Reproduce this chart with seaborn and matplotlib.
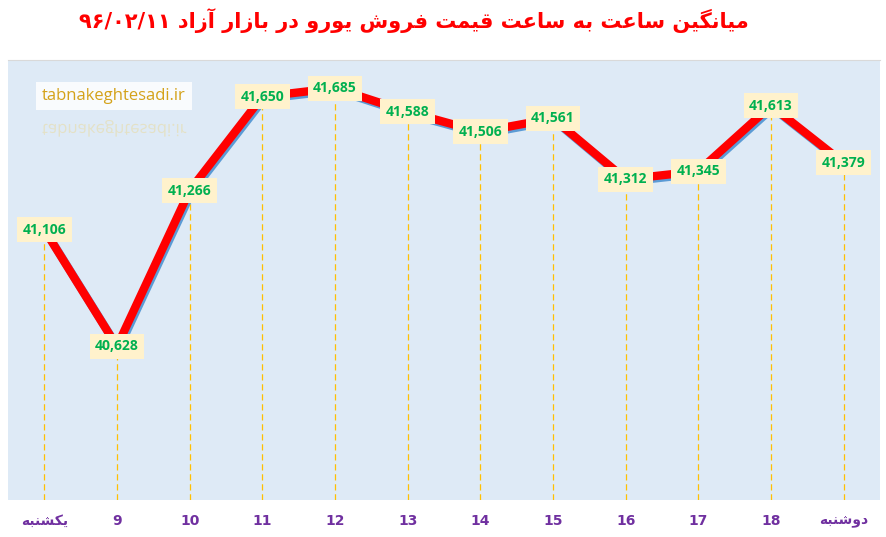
import matplotlib.pyplot as plt
import matplotlib.patheffects as pe
from matplotlib.textpath import TextPath
from matplotlib.patches import PathPatch
from matplotlib.transforms import Affine2D
from matplotlib.font_manager import FontProperties
import seaborn as sns
import pandas as pd

# data
days = ['یکشنبه', '9', '10', '11', '12', '13', '14', '15', '16', '17', '18', 'دوشنبه']
prices = [41106, 40628, 41266, 41650, 41685, 41588, 41506, 41561, 41312, 41345, 41613, 41379]
title_fa = 'میانگین ساعت به ساعت قیمت فروش یورو در بازار آزاد'
title_date = '۹۶/۰۲/۱۱'
watermark = 'tabnakeghtesadi.ir'

# minimal arabic/persian shaping (matplotlib does no shaping / rtl)
FORMS = {
    'ا': ('\uFE8D', '\uFE8E', None, None),
    'آ': ('\uFE81', '\uFE82', None, None),
    'ب': ('\uFE8F', '\uFE90', '\uFE91', '\uFE92'),
    'ت': ('\uFE95', '\uFE96', '\uFE97', '\uFE98'),
    'د': ('\uFEA9', '\uFEAA', None, None),
    'ر': ('\uFEAD', '\uFEAE', None, None),
    'ز': ('\uFEAF', '\uFEB0', None, None),
    'س': ('\uFEB1', '\uFEB2', '\uFEB3', '\uFEB4'),
    'ش': ('\uFEB5', '\uFEB6', '\uFEB7', '\uFEB8'),
    'ع': ('\uFEC9', '\uFECA', '\uFECB', '\uFECC'),
    'ف': ('\uFED1', '\uFED2', '\uFED3', '\uFED4'),
    'ق': ('\uFED5', '\uFED6', '\uFED7', '\uFED8'),
    'م': ('\uFEE1', '\uFEE2', '\uFEE3', '\uFEE4'),
    'ن': ('\uFEE5', '\uFEE6', '\uFEE7', '\uFEE8'),
    'ه': ('\uFEE9', '\uFEEA', '\uFEEB', '\uFEEC'),
    'و': ('\uFEED', '\uFEEE', None, None),
    'ی': ('\uFBFC', '\uFBFD', '\uFBFE', '\uFBFF'),
    'گ': ('\uFB92', '\uFB93', '\uFB94', '\uFB95'),
    'ک': ('\uFB8E', '\uFB8F', '\uFB90', '\uFB91'),
}


def shape(text):
    if not any(ch in FORMS for ch in text):
        return text
    out = []
    for i, ch in enumerate(text):
        if ch not in FORMS:
            out.append(ch)
            continue
        prev = text[i - 1] if i > 0 else ''
        nxt = text[i + 1] if i + 1 < len(text) else ''
        iso, fin, ini, med = FORMS[ch]
        jp = prev in FORMS and FORMS[prev][2] is not None
        jn = nxt in FORMS and ini is not None
        if jp and jn:
            out.append(med)
        elif jp:
            out.append(fin)
        elif jn:
            out.append(ini)
        else:
            out.append(iso)
    return ''.join(reversed(out))


sns.set_style('white')
plt.rcParams['font.family'] = ['DejaVu Sans']

df = pd.DataFrame({'pos': range(len(prices)), 'price': prices})

fig = plt.figure(figsize=(8.87, 5.37), dpi=100)
ax = fig.add_axes([8 / 887, 37 / 537, 872 / 887, 440 / 537])
ax.set_facecolor('#DEEAF6')

sns.lineplot(data=df, x='pos', y='price', ax=ax, color='#FF0000', linewidth=6,
             solid_capstyle='round', solid_joinstyle='round', zorder=3,
             path_effects=[pe.SimpleLineShadow(offset=(1.2, -1.6), shadow_color='#5B9BD5', alpha=1),
                           pe.Normal()])

ax.vlines(df['pos'], 40000, df['price'], colors='#FFC000', linestyles=(0, (5, 3)),
          linewidth=0.9, zorder=2)

for x, y in zip(df['pos'], df['price']):
    ax.text(x, y, f'{y:,}', ha='center', va='center', fontsize=10, fontweight='bold',
            color='#00B050', family='Open Sans', zorder=5,
            bbox=dict(boxstyle='square,pad=0.4', fc='#FFF2CC', ec='none'))

ax.set_xlim(-0.5, len(prices) - 0.5)
ax.set_ylim(40000, 41800)
ax.set_xticks(range(len(days)))
ax.set_xticklabels([shape(d) for d in days], color='#7030A0', fontweight='bold', fontsize=10)
ax.tick_params(axis='x', length=0, pad=10)
ax.set_yticks([])
ax.set_xlabel('')
ax.set_ylabel('')
for s in ax.spines.values():
    s.set_visible(False)
ax.spines['top'].set_visible(True)
ax.spines['top'].set_color('#D9D9D9')

# watermark with reflection
fig.text(42 / 887, 1 - 96 / 537, watermark, ha='left', va='center', fontsize=12,
         color='#D4A21A', family='Open Sans', zorder=6,
         bbox=dict(boxstyle='square,pad=0.35', fc='white', ec='none', alpha=0.85))
tp = TextPath((0, 0), watermark, size=12, prop=FontProperties(family='Open Sans'))
tr = Affine2D().scale(1 / 72, -1 / 72).translate(42 / 100, (537 - 124) / 100) + fig.dpi_scale_trans
fig.patches.append(PathPatch(tp, transform=tr, fc='#E8DCA8', ec='none', alpha=0.6))

fig.text(414 / 887, 1 - 21 / 537, title_date + ' ' + shape(title_fa), ha='center', va='center',
         fontsize=15, fontweight='bold', color='#FF0000')

plt.savefig('out.png', dpi=100)
